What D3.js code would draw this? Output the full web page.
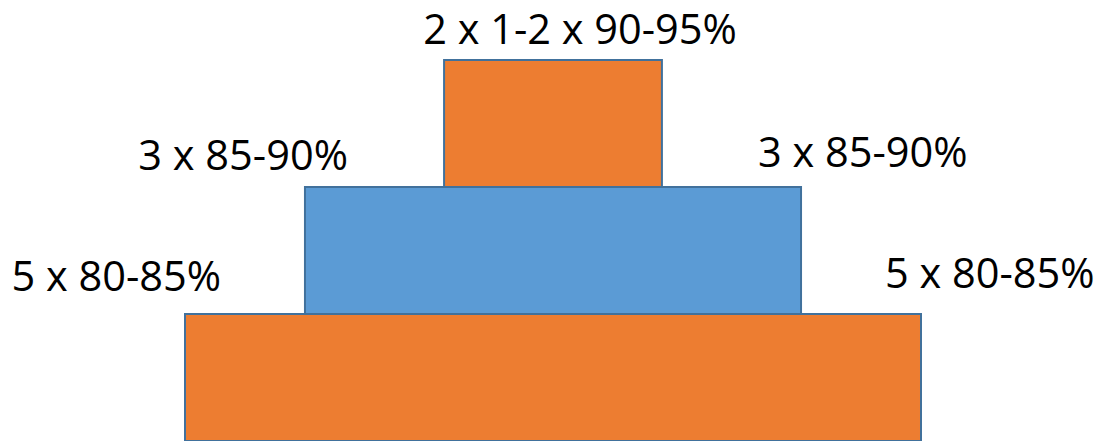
<!DOCTYPE html>
<html>
<head>
<meta charset="utf-8">
<script src="https://cdn.jsdelivr.net/npm/d3@7"></script>
<style>
  html, body { margin: 0; padding: 0; background: #fff; }
  svg { display: block; }
</style>
</head>
<body>
<svg id="chart" width="1098" height="441"></svg>
<script>
// Training pyramid: tiers from peak (top) to base (bottom)
const tiers = ["peak", "middle", "base"];
// Relative width of each tier (base = 100)
const tierWidths = [29.6, 67.4, 100];
const tierColors = ["#ED7D31", "#5B9BD5", "#ED7D31"];
// Set/rep/intensity prescriptions shown for each tier
const leftLabels = ["2 x 1-2 x 90-95%", "3 x 85-90%", "5 x 80-85%"];
const rightLabels = ["", "3 x 85-90%", "5 x 80-85%"];

const svg = d3.select("#chart");

// Horizontal scale: width values are centred on 0
const x = d3.scaleLinear().domain([-50, 50]).range([185, 921]);
// Vertical scale: one band per tier
const y = d3.scaleBand().domain(tiers).range([60, 441]).padding(0);

const data = tiers.map((t, i) => ({
  tier: t,
  width: tierWidths[i],
  color: tierColors[i],
  left: leftLabels[i],
  right: rightLabels[i]
}));

svg.selectAll("rect.tier")
  .data(data)
  .join("rect")
  .attr("class", "tier")
  .attr("x", d => x(-d.width / 2))
  .attr("y", d => y(d.tier))
  .attr("width", d => x(d.width / 2) - x(-d.width / 2))
  .attr("height", y.bandwidth())
  .attr("fill", d => d.color)
  .attr("stroke", "#41719C")
  .attr("stroke-width", 2);

const font = "'Open Sans', 'Noto Sans', sans-serif";
const fontSize = 41.5;

// Peak label: centred above the top tier
svg.append("text")
  .attr("x", x(0) + 27)
  .attr("y", y("peak") - 16)
  .attr("text-anchor", "middle")
  .attr("font-family", font)
  .attr("font-size", fontSize)
  .attr("fill", "#000")
  .text(data[0].left);

// Side labels for the lower tiers
const sideOffsets = { middle: { dx: 43, dy: -17 }, base: { dx: 36, dy: -23 } };

data.slice(1).forEach(d => {
  const o = sideOffsets[d.tier];
  svg.append("text")
    .attr("x", x(-d.width / 2) + o.dx)
    .attr("y", y(d.tier) + o.dy)
    .attr("text-anchor", "end")
    .attr("font-family", font)
    .attr("font-size", fontSize)
    .attr("fill", "#000")
    .text(d.left);
  svg.append("text")
    .attr("x", x(d.width / 2) - o.dx)
    .attr("y", y(d.tier) + o.dy - 3)
    .attr("text-anchor", "start")
    .attr("font-family", font)
    .attr("font-size", fontSize)
    .attr("fill", "#000")
    .text(d.right);
});
</script>
</body>
</html>
